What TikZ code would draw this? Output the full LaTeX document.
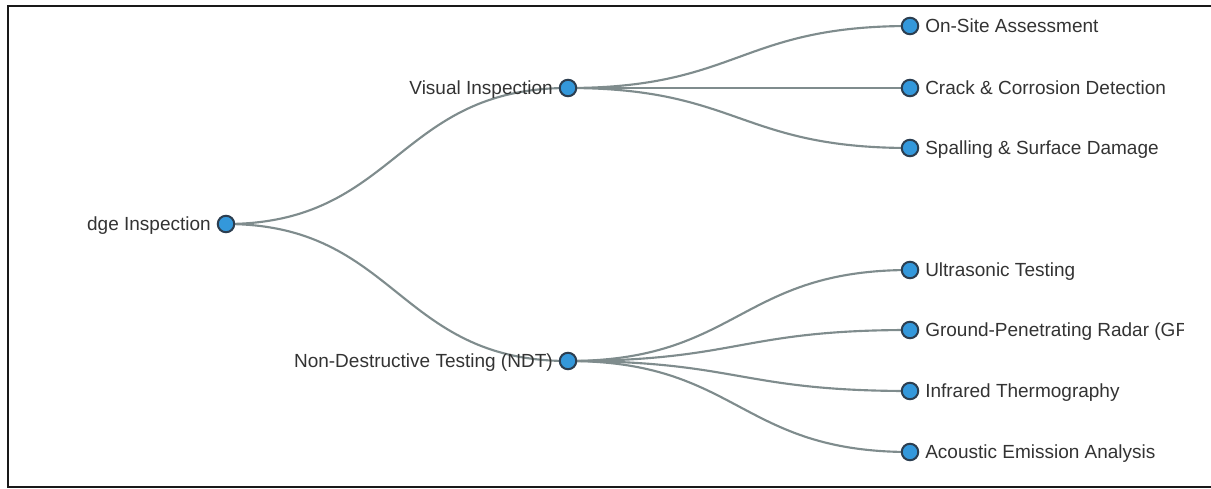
\documentclass[tikz,border=0pt]{standalone}
\usepackage{fontspec}
\setmainfont{Liberation Sans}
\usetikzlibrary{calc}
\definecolor{linkgray}{HTML}{7F8C8D}
\definecolor{dotfill}{HTML}{3498DB}
\definecolor{dotedge}{HTML}{2C3E50}
\definecolor{labeltext}{HTML}{333333}
\pgfdeclarelayer{links}
\pgfsetlayers{links,main}
\begin{document}
\begin{tikzpicture}[x=0.75pt,y=-0.75pt,
  dot/.style={circle,draw=dotedge,fill=dotfill,line width=1.5pt,minimum size=12.4pt,inner sep=0pt},
  link/.style={draw=linkgray,line width=1.6pt},
  rlabel/.style={anchor=base west,inner sep=0pt,text=labeltext,font=\fontsize{14.25pt}{17pt}\selectfont},
  llabel/.style={anchor=base east,inner sep=0pt,text=labeltext,font=\fontsize{14.25pt}{17pt}\selectfont},
  frame/.style={draw=black!90,line width=1.6pt}]
\useasboundingbox (0,0) rectangle (1211,489);
% outer frame (right side runs past the page)
\draw[frame] (1215,6) -- (8,6) -- (8,487) -- (1215,487);

% tree nodes
\node[dot] (root) at (226,224) {};
\node[dot] (vis)  at (568,88) {};
\node[dot] (ndt)  at (568,361) {};
\node[dot] (l1) at (910,26) {};
\node[dot] (l2) at (910,88) {};
\node[dot] (l3) at (910,148) {};
\node[dot] (l4) at (910,270) {};
\node[dot] (l5) at (910,330) {};
\node[dot] (l6) at (910,391) {};
\node[dot] (l7) at (910,452) {};

% labels, clipped to the drawing area
\begin{scope}
\clip (85,0) rectangle (1183,489);
\node[llabel] (troot) at ($(root)+(-15,6.8)$) {dge Inspection};
\node[llabel] (tvis)  at ($(vis)+(-15,6.8)$) {Visual Inspection};
\node[llabel] (tndt)  at ($(ndt)+(-15,6.8)$) {Non-Destructive Testing (NDT)};
\node[rlabel] (t1) at ($(l1)+(15,6.8)$) {On-Site Assessment};
\node[rlabel] (t2) at ($(l2)+(15,6.8)$) {Crack \& Corrosion Detection};
\node[rlabel] (t3) at ($(l3)+(15,6.8)$) {Spalling \& Surface Damage};
\node[rlabel] (t4) at ($(l4)+(15,6.8)$) {Ultrasonic Testing};
\node[rlabel] (t5) at ($(l5)+(15,6.8)$) {Ground-Penetrating Radar (GP};
\node[rlabel] (t6) at ($(l6)+(15,6.8)$) {Infrared Thermography};
\node[rlabel] (t7) at ($(l7)+(15,6.8)$) {Acoustic Emission Analysis};
\end{scope}

% horizontal S-curve links behind the dots
\begin{pgfonlayer}{links}
\foreach \a/\b in {root/vis,root/ndt,vis/l1,vis/l2,vis/l3,ndt/l4,ndt/l5,ndt/l6,ndt/l7}{
  \draw[link] (\a.center) .. controls ($(\a.center)+(171,0)$) and ($(\b.center)+(-171,0)$) .. (\b.center);
}
\end{pgfonlayer}
\end{tikzpicture}
\end{document}
